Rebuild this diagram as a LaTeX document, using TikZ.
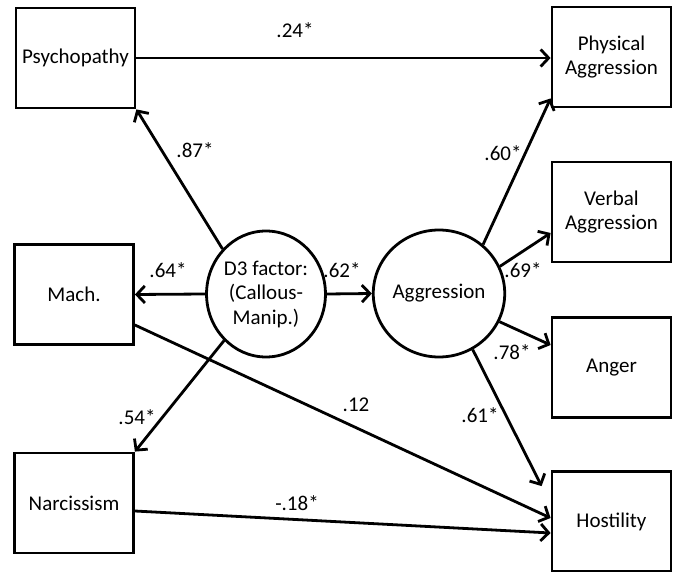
\documentclass[tikz,border=0pt]{standalone}
\usepackage{fontspec}
\setmainfont{Carlito}
\usetikzlibrary{arrows.meta,calc,shapes.geometric}
\begin{document}
\begin{tikzpicture}[x=1pt,y=-1pt,
  every node/.style={font=\fontsize{21}{24.5}\selectfont},
  box/.style={draw,line width=2.8pt,minimum width=119pt,minimum height=100pt,align=center,inner sep=0pt},
  latent/.style={draw,ellipse,line width=2.8pt,minimum width=118pt,minimum height=126pt,align=center,inner sep=0pt},
  path/.style={line width=2.8pt,-{Straight Barb[length=8pt,width=17pt]}},
  coef/.style={inner sep=0pt}]
\useasboundingbox (0,0) rectangle (678,572);
\node[box] (psy) at (75.5,58) {Psychopathy};
\node[box] (mach) at (74,294.5) {Mach.};
\node[box] (narc) at (74,503) {Narcissism};
\node[box] (phys) at (611.5,57) {Physical\\Aggression};
\node[box] (verb) at (611.5,212) {Verbal\\Aggression};
\node[box] (ang) at (611.5,367.5) {Anger};
\node[box] (host) at (611.5,521.5) {Hostility};
\node[latent] (d3) at (266,294) {D3 factor:\\(Callous-\\Manip.)};
\node[latent,minimum width=120pt,minimum height=127pt] (agg) at (439,293.5) {Aggression};
\coordinate (hend) at ($(host.north west)+(-9,16)$);
\draw[path] (psy.east) -- (phys.west |- psy.east);
\draw[path] (d3.134) -- (psy.south east);
\draw[path] (d3.west) -- (mach.east);
\draw[path] (d3.228) -- (narc.north east);
\draw[path] (d3.east) -- (agg.west);
\draw[path] ($(mach.east)+(0,30.5)$) -- ($(host.west)+(0,-3.5)$);
\draw[path] ($(narc.east)+(0,8)$) -- ($(host.west)+(0,11.5)$);
\draw[path] (agg.48) -- ($(phys.south west)+(0,-10)$);
\draw[path] (agg.24) -- ($(verb.west)+(0,21)$);
\draw[path] (agg.-25) -- ($(ang.west)+(0,-22.5)$);
\draw[path] (agg.-59) -- (hend);
\node[coef] (c24) at (295,30) {.24*};
\node[coef] (c87) at (195,150) {.87*};
\node[coef] (c60) at (503,153) {.60*};
\node[coef] (c64) at (168,270) {.64*};
\node[coef] (c62) at (342,270) {.62*};
\node[coef] (c69) at (523,270) {.69*};
\node[coef] (c78) at (512,352) {.78*};
\node[coef] (c12) at (356,405) {.12};
\node[coef] (c61) at (480,415) {.61*};
\node[coef] (c54) at (137,417) {.54*};
\node[coef] (c18) at (297,503) {-.18*};
\end{tikzpicture}
\end{document}
